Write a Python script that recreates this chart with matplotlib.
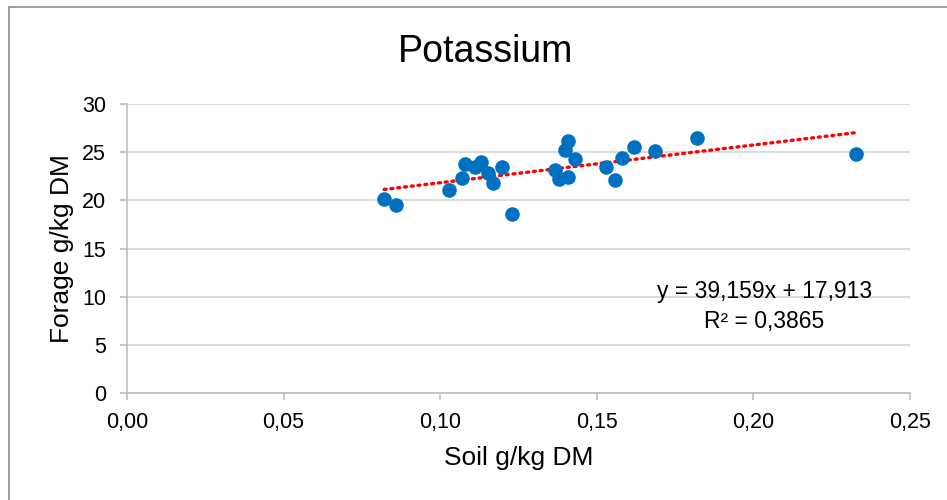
import matplotlib
matplotlib.use("Agg")
import matplotlib.pyplot as plt
import numpy as np
from matplotlib.patches import Rectangle
from matplotlib.ticker import FuncFormatter

plt.rcParams['font.family'] = ['Liberation Sans', 'DejaVu Sans']

soil = [0.0821, 0.0859, 0.1028, 0.1070, 0.1079, 0.1111, 0.1130, 0.1152, 0.1168,
        0.1197, 0.1229, 0.1367, 0.1379, 0.1398, 0.1408, 0.1430, 0.1408, 0.1529,
        0.1558, 0.1580, 0.1619, 0.1686, 0.1820, 0.2328]
forage = [20.1, 19.5, 21.1, 22.3, 23.8, 23.5, 24.0, 22.8, 21.8,
          23.5, 18.6, 23.1, 22.2, 25.2, 26.2, 24.3, 22.4, 23.5,
          22.1, 24.4, 25.5, 25.1, 26.5, 24.8]
slope = 39.159
intercept = 17.913
r2 = 0.3865

title = "Potassium"
xlabel = "Soil g/kg DM"
ylabel = "Forage g/kg DM"
xticks = [0.00, 0.05, 0.10, 0.15, 0.20, 0.25]
yticks = [0, 5, 10, 15, 20, 25, 30]

fig = plt.figure(figsize=(9.47, 5.0), dpi=100)
ax = fig.add_axes([127/947, 1-393/500, (910-127)/947, (393-104)/500])

# chart border
fig.patches.append(Rectangle((9/947, -0.1), 1.2, 1-7/500+0.1, transform=fig.transFigure,
                             fill=False, edgecolor='#8c8c8c', linewidth=1.2))

ax.grid(axis='y', color='#d9d9d9', linewidth=1.4)
ax.set_axisbelow(True)

xs = np.array([min(soil), max(soil)])
ax.plot(xs, slope*xs + intercept, color='#ff0000', linewidth=2.4,
        linestyle=(0, (0.6, 1.45)), dash_capstyle='round', zorder=2)
ax.scatter(soil, forage, s=110, color='#0070c0', zorder=3, linewidths=0)

ax.set_xlim(0, 0.25)
ax.set_ylim(0, 30)
ax.set_xticks(xticks)
ax.set_yticks(yticks)
ax.xaxis.set_major_formatter(FuncFormatter(lambda v, p: f"{v:.2f}".replace('.', ',')))
ax.yaxis.set_major_formatter(FuncFormatter(lambda v, p: f"{v:.0f}"))
for s in ['top', 'right']:
    ax.spines[s].set_visible(False)
for s in ['left', 'bottom']:
    ax.spines[s].set_color('#bfbfbf')
    ax.spines[s].set_linewidth(1.2)
ax.tick_params(axis='both', direction='out', length=5, color='#bfbfbf', width=1.2,
               labelsize=15.5, labelcolor='#000000')
ax.tick_params(axis='x', pad=9)
ax.tick_params(axis='y', pad=10)

ax.set_xlabel(xlabel, fontsize=19)
ax.set_ylabel(ylabel, fontsize=19)
ax.xaxis.set_label_coords(0.5, -0.185)
ax.yaxis.set_label_coords(-0.068, 0.5)
fig.text(486/947, 1-52/500, title, ha='center', va='center', fontsize=27)

ax.text(0.2035, 10.55, f"y = {slope:.3f}x + {intercept:.3f}".replace('.', ','),
        ha='center', va='center', fontsize=16.5)
ax.text(0.2035, 7.45, f"R² = {r2:.4f}".replace('.', ','),
        ha='center', va='center', fontsize=16.5)

fig.savefig("out.png", dpi=100)
